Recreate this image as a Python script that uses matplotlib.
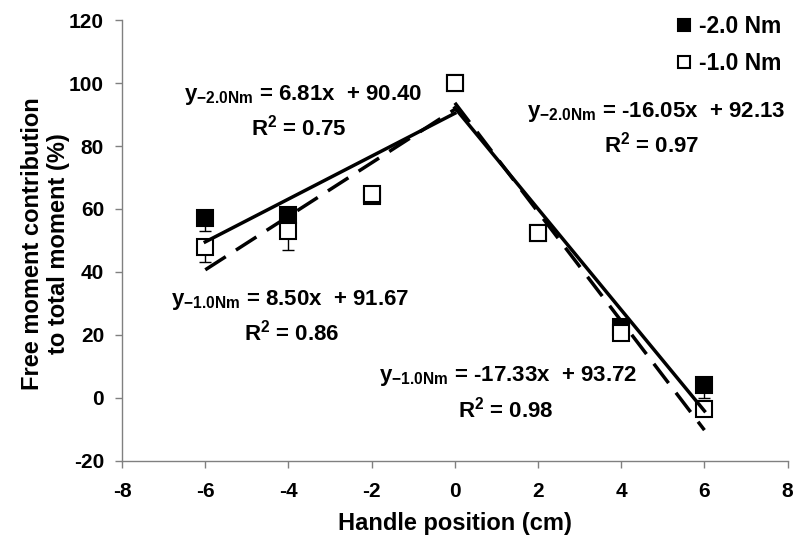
# free moment contribution vs handle position, two torque levels
# with piecewise linear trendlines (left / right of handle centre)

import numpy as np
import matplotlib
matplotlib.use('Agg')
import matplotlib.pyplot as plt

positions = [-6, -4, -2, 0, 2, 4, 6]

fm_20 = [57.0, 58.0, 64.0, 100.0, 52.3, 22.5, 4.0]
err_20 = [4.0, 4.0, 1.0, 0.0, 0.0, 2.0, 4.0]
fm_10 = [48.0, 53.0, 64.8, 100.0, 52.3, 20.6, -3.6]
err_10 = [5.0, 6.0, 1.0, 0.0, 1.0, 2.0, 1.0]

labels = ['-2.0 Nm', '-1.0 Nm']

# trendline coefficients (left side x<=0, right side x>=0)
slopes_20 = [6.81, -16.05]
intercepts_20 = [90.40, 92.13]
r2_20 = [0.75, 0.97]
slopes_10 = [8.50, -17.33]
intercepts_10 = [91.67, 93.72]
r2_10 = [0.86, 0.98]
fit_ranges = [(-6, 0), (0, 6)]

plt.rcParams['font.family'] = ['Liberation Sans', 'DejaVu Sans']
plt.rcParams['font.weight'] = 'bold'
plt.rcParams['mathtext.fontset'] = 'custom'
plt.rcParams['mathtext.rm'] = 'Liberation Sans:bold'
plt.rcParams['mathtext.it'] = 'Liberation Sans:bold'
plt.rcParams['mathtext.bf'] = 'Liberation Sans:bold'

fig = plt.figure(figsize=(7.98, 5.44), dpi=100)
ax = fig.add_axes([0.153, 0.153, 0.834, 0.810])


def draw_fit(slopes, intercepts, style):
    for (x0, x1), m, b in zip(fit_ranges, slopes, intercepts):
        xs = np.array([x0, x1], dtype=float)
        ax.plot(xs, m * xs + b, color='black', lw=2.5, linestyle=style, zorder=4)


# error bars (lower side only, as in the original)
ax.errorbar(positions, fm_20, yerr=[err_20, [0] * len(err_20)], fmt='none',
            ecolor='black', elinewidth=1.0, capsize=4, capthick=1.0, zorder=2)
ax.errorbar(positions, fm_10, yerr=[err_10, [0] * len(err_10)], fmt='none',
            ecolor='black', elinewidth=1.0, capsize=4, capthick=1.0, zorder=2)

ax.plot(positions, fm_20, 's', ms=11.5, mfc='black', mec='black', mew=1.5,
        label=labels[0], zorder=3)
ax.plot(positions, fm_10, 's', ms=11.5, mfc='white', mec='black', mew=1.5,
        label=labels[1], zorder=3)

draw_fit(slopes_20, intercepts_20, '-')
draw_fit(slopes_10, intercepts_10, (0, (7, 3.5)))

fs = 16


def eq_text(x, y, ha, sub, m, b, r2x, r2y, r2):
    sign = '+' if b >= 0 else '-'
    ax.text(x, y, 'y$_{\\mathrm{%s}}$ = %.2fx  %s %.2f' % (sub, m, sign, abs(b)),
            ha=ha, va='center', fontsize=fs, fontweight='bold', zorder=5)
    ax.text(r2x, r2y, 'R$^{\\mathrm{2}}$ = %.2f' % r2,
            ha='center', va='center', fontsize=fs, fontweight='bold', zorder=5)


eq_text(-0.77, 96.2, 'right', '-2.0Nm', slopes_20[0], intercepts_20[0], -3.75, 86.0, r2_20[0])
eq_text(1.73, 90.8, 'left', '-2.0Nm', slopes_20[1], intercepts_20[1], 4.74, 80.6, r2_20[1])
eq_text(-6.83, 31.1, 'left', '-1.0Nm', slopes_10[0], intercepts_10[0], -3.92, 20.6, r2_10[0])
eq_text(4.37, 7.0, 'right', '-1.0Nm', slopes_10[1], intercepts_10[1], 1.23, -3.8, r2_10[1])

ax.set_xlim(-8, 8)
ax.set_ylim(-20, 120)
ax.set_xticks(np.arange(-8, 9, 2))
ax.set_yticks(np.arange(-20, 121, 20))
ax.set_xticklabels([str(v) for v in range(-8, 9, 2)])
ax.set_yticklabels([str(v) for v in range(-20, 121, 20)])

for s in ['top', 'right']:
    ax.spines[s].set_visible(False)
for s in ['left', 'bottom']:
    ax.spines[s].set_color('#808080')
    ax.spines[s].set_linewidth(1.0)
ax.tick_params(axis='both', direction='out', length=5, width=1.0, color='#808080',
               labelsize=15)
ax.tick_params(axis='x', pad=10)
ax.tick_params(axis='y', pad=8)
for lab in ax.get_xticklabels() + ax.get_yticklabels():
    lab.set_fontweight('bold')

ax.set_xlabel('Handle position (cm)', fontsize=17, fontweight='bold', labelpad=8)
ax.set_ylabel('Free moment contribution\nto total moment (%)', fontsize=17,
              fontweight='bold')
ax.yaxis.set_label_coords(-0.078, 0.493)

leg = ax.legend(loc='upper right', bbox_to_anchor=(1.014, 1.047), frameon=False,
                fontsize=16.5, handlelength=0.6, handletextpad=0.35, markerscale=0.8,
                labelspacing=0.6, borderaxespad=0.3)
for t in leg.get_texts():
    t.set_fontweight('bold')

fig.savefig('out.png', dpi=100)
